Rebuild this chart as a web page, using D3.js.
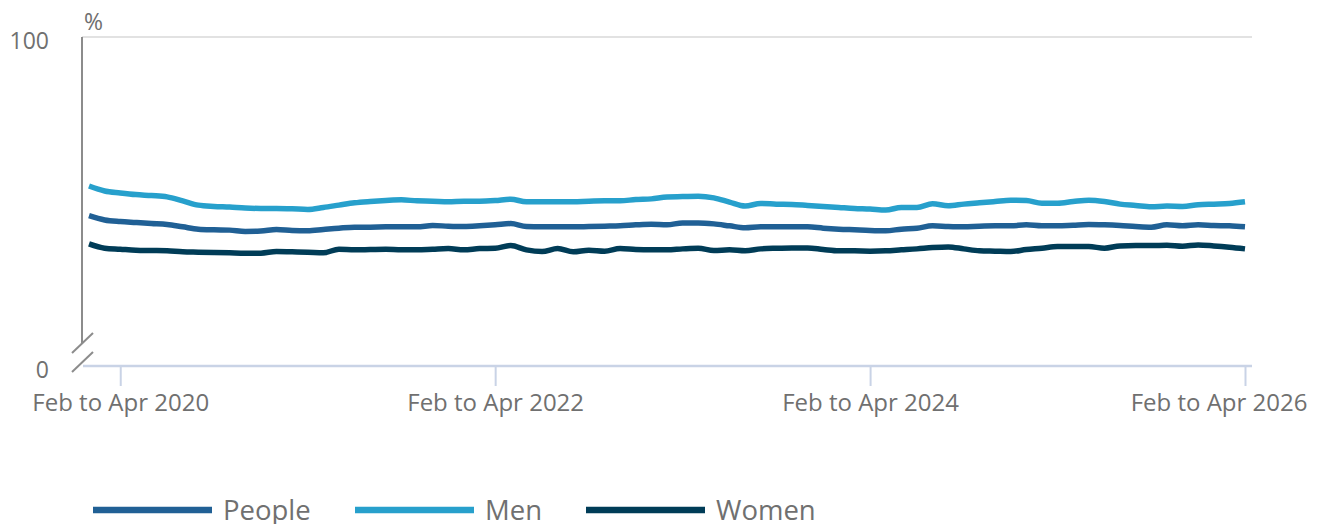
<!DOCTYPE html>
<html>
<head>
<meta charset="utf-8">
<script src="https://cdn.jsdelivr.net/npm/d3@7"></script>
<style>
  body { margin: 0; background: #fff; }
  svg { display: block; font-family: "Open Sans", sans-serif; }
  .lbl { fill: #707070; font-family: "Open Sans", sans-serif; }
</style>
</head>
<body>
<div id="chart"></div>
<script>
// rolling three-month periods, Dec to Feb 2020 .. Feb to Apr 2026
var monthNames = ["Jan","Feb","Mar","Apr","May","Jun","Jul","Aug","Sep","Oct","Nov","Dec"];
var firstStart = { month: 11, year: 2019 };  // Dec 2019 -> "Dec to Feb 2020"
var periodCount = 75;

var tickLabels = ["Feb to Apr 2020", "Feb to Apr 2022", "Feb to Apr 2024", "Feb to Apr 2026"];
var yTicks = [0, 100];

var seriesNames = ["People", "Men", "Women"];
var seriesColors = ["#206095", "#27a0cc", "#003c57"];

var people = [45.7,44.4,43.9,43.6,43.3,43.0,42.3,41.6,41.4,41.3,40.9,41.0,41.5,41.2,41.1,
              41.5,41.9,42.2,42.2,42.3,42.3,42.3,42.7,42.5,42.4,42.6,42.9,43.3,42.4,42.3,
              42.3,42.3,42.4,42.5,42.6,42.9,43.1,42.9,43.5,43.5,43.2,42.6,42.0,42.3,42.3,
              42.3,42.3,41.9,41.6,41.4,41.2,41.1,41.6,41.9,42.6,42.4,42.3,42.5,42.6,42.6,
              42.9,42.6,42.6,42.8,43.0,42.9,42.7,42.4,42.2,42.9,42.6,42.9,42.7,42.6,42.3];

var men = [54.7,53.2,52.6,52.1,51.8,51.4,50.2,48.9,48.5,48.3,48.0,47.9,47.9,47.8,47.6,
           48.2,48.9,49.6,50.0,50.3,50.5,50.2,50.1,49.9,50.1,50.1,50.3,50.7,49.9,49.9,
           49.9,49.9,50.1,50.2,50.2,50.6,50.8,51.4,51.5,51.6,51.1,49.8,48.6,49.4,49.2,
           49.1,48.8,48.5,48.2,47.9,47.7,47.4,48.2,48.2,49.3,48.7,49.2,49.6,50.0,50.4,
           50.3,49.5,49.5,50.0,50.4,50.0,49.2,48.8,48.4,48.6,48.5,49.0,49.2,49.4,49.9];

var women = [37.1,35.8,35.5,35.2,35.1,35.0,34.7,34.6,34.5,34.4,34.3,34.3,34.8,34.7,34.6,
             34.4,35.5,35.3,35.4,35.5,35.3,35.3,35.5,35.7,35.3,35.7,35.8,36.6,35.3,34.8,
             35.7,34.7,35.2,34.9,35.7,35.4,35.3,35.3,35.6,35.8,35.1,35.3,35.0,35.6,35.8,
             35.9,35.9,35.4,35.0,35.0,34.9,35.0,35.3,35.6,36.0,36.2,35.6,35.0,34.9,34.8,
             35.4,35.8,36.3,36.3,36.3,35.8,36.5,36.6,36.6,36.7,36.4,36.8,36.5,36.1,35.6];

var periods = [];
for (var i = 0; i < periodCount; i++) {
    var m = firstStart.month + i;
    var endM = m + 2;
    var y = firstStart.year + Math.floor(endM / 12);
    periods.push(monthNames[m % 12] + " to " + monthNames[endM % 12] + " " + y);
}

var series = [people, men, women];

var W = 1322, H = 524;
var plot = { left: 82, right: 1252, top: 37, bottom: 366 };

var svg = d3.select("#chart").append("svg")
    .attr("width", W)
    .attr("height", H);

var x = d3.scalePoint()
    .domain(periods)
    .range([89, 1245]);

var y = d3.scaleLinear()
    .domain([0, 100])
    .range([plot.bottom, plot.top]);

// gridline at 100
svg.append("line")
    .attr("x1", plot.left).attr("x2", plot.right)
    .attr("y1", y(100)).attr("y2", y(100))
    .attr("stroke", "#e2e2e2")
    .attr("stroke-width", 2);

// y axis labels
var yAxis = svg.append("g")
    .attr("transform", "translate(" + plot.left + ",0)")
    .call(d3.axisLeft(y).tickValues(yTicks).tickSize(0).tickPadding(33))
    .attr("font-family", null)
    .attr("font-size", null);
yAxis.select(".domain").remove();
yAxis.selectAll("text")
    .attr("class", "lbl")
    .attr("fill", null)
    .style("font-size", "23px")
    .attr("dy", "0.5em");

svg.append("text")
    .attr("class", "lbl")
    .attr("x", 84).attr("y", 30)
    .style("font-size", "23px")
    .text("%");

// vertical axis line with break
svg.append("line")
    .attr("x1", plot.left).attr("x2", plot.left)
    .attr("y1", plot.top).attr("y2", 343)
    .attr("stroke", "#8c8c8c")
    .attr("stroke-width", 2);

[343, 362].forEach(function(cy){
    svg.append("line")
        .attr("x1", 72).attr("x2", 93)
        .attr("y1", cy + 10).attr("y2", cy - 10)
        .attr("stroke", "#8c8c8c")
        .attr("stroke-width", 2);
});

// x axis baseline
svg.append("line")
    .attr("x1", plot.left + 1).attr("x2", plot.right)
    .attr("y1", plot.bottom).attr("y2", plot.bottom)
    .attr("stroke", "#c9d3e6")
    .attr("stroke-width", 2.5);

var xAxis = svg.append("g")
    .attr("transform", "translate(0," + plot.bottom + ")")
    .call(d3.axisBottom(x).tickValues(tickLabels).tickSize(20).tickPadding(8))
    .attr("font-family", null)
    .attr("font-size", null);
xAxis.select(".domain").remove();
xAxis.selectAll(".tick line")
    .attr("stroke", "#c9d3e6")
    .attr("stroke-width", 2);
xAxis.selectAll("text")
    .attr("class", "lbl")
    .attr("fill", null)
    .style("font-size", "24px");

// keep the last label inside the frame
var lastTick = xAxis.selectAll(".tick text").filter(function(d){
    return d === tickLabels[tickLabels.length - 1];
});
lastTick.attr("text-anchor", "end")
    .attr("x", (W - 15) - x(tickLabels[tickLabels.length - 1]));

// lines
var line = d3.line()
    .x(function(d, i){ return x(periods[i]); })
    .y(function(d){ return y(d); })
    .curve(d3.curveMonotoneX);

svg.append("g").selectAll("path")
    .data(series)
    .enter()
    .append("path")
    .attr("d", line)
    .attr("fill", "none")
    .attr("stroke", function(d, i){ return seriesColors[i]; })
    .attr("stroke-width", 5.5)
    .attr("stroke-linejoin", "round");

// legend
var legendX = [93, 355, 586];
var legend = svg.append("g").selectAll("g")
    .data(seriesNames)
    .enter()
    .append("g")
    .attr("transform", function(d, i){ return "translate(" + legendX[i] + ",510)"; });

legend.append("line")
    .attr("x1", 0).attr("x2", 119)
    .attr("stroke", function(d, i){ return seriesColors[i]; })
    .attr("stroke-width", 6.5);

legend.append("text")
    .attr("class", "lbl")
    .attr("x", 130)
    .attr("y", 10)
    .style("font-size", "27.5px")
    .text(function(d){ return d; });
</script>
</body>
</html>
